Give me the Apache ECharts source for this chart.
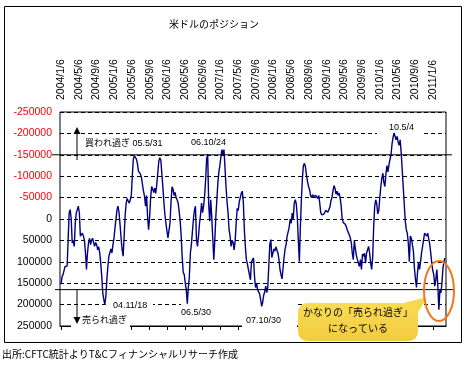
<!DOCTYPE html>
<html><head><meta charset="utf-8">
<script src="https://cdn.jsdelivr.net/npm/echarts@6/dist/echarts.min.js"></script>
<style>html,body{margin:0;padding:0;background:#fff}#c{width:465px;height:365px}</style>
</head><body><div id="c"></div>
<script>
// ---------- data ----------
const titleText = '米ドルのポジション';
const sourceText = '出所:CFTC統計よりT&Cフィナンシャルリサーチ作成';
const tickLabels = ['2004/1/6','2004/5/6','2004/9/6','2005/1/6','2005/5/6','2005/9/6',
  '2006/1/6','2006/5/6','2006/9/6','2007/1/6','2007/5/6','2007/9/6','2008/1/6','2008/5/6',
  '2008/9/6','2009/1/6','2009/5/6','2009/9/6','2010/1/6','2010/5/6','2010/9/6','2011/1/6'];
const firstWeek = '2004/1/6';
const axisStart = '2003/12/30';
const axisEnd = '2011/4/5';
const yMin = -250000, yMax = 250000, yStep = 50000;
const overboughtLevel = -150000;
const oversoldLevel = 165000;
// weekly net position (contracts), one value per week from firstWeek
const positions = [
  152000,135000,130000,120000,111000,112000,110000,48000,-14000,-22000,
  0,56000,50000,64000,9000,-14000,-22000,-30000,-14000,40000,
  44000,33000,40000,50000,79000,118000,79000,56000,45000,60000,
  50000,45000,55000,64000,55000,60000,72000,65000,79000,103000,
  134000,173000,188000,200000,181000,142000,111000,87000,79000,70000,
  79000,60000,45000,20000,0,-22000,-30000,-14000,15000,45000,
  72000,87000,40000,-10000,-37000,-48000,-42000,-37000,-45000,-55000,
  -100000,-140000,-148000,-148000,-140000,-130000,-112000,-108000,-105000,-96000,
  -80000,-65000,-53000,-30000,-55000,-5000,25000,-5000,-50000,-76000,
  -70000,-62000,-72000,-60000,-80000,-107000,-135000,-143000,-138000,-105000,
  -75000,-40000,-10000,10000,28000,44000,40000,10000,-40000,-75000,
  -70000,-55000,-62000,-50000,-45000,-37000,-18000,5000,40000,90000,
  125000,130000,150000,165000,198000,160000,135000,80000,60000,30000,
  0,-20000,-30000,48000,64000,40000,10000,-10000,-37000,-15000,
  -30000,-55000,-92000,-140000,-152000,-35000,5000,-45000,-5000,45000,
  95000,50000,-5000,-45000,-84000,-110000,-125000,-145000,-162000,-150000,
  -162000,-120000,-76000,-41000,-15000,25000,40000,64000,50000,55000,
  72000,50000,9000,-25000,-20000,-40000,-50000,-60000,-65000,-40000,
  25000,65000,95000,105000,118000,120000,142000,100000,98000,91000,
  135000,160000,150000,165000,162000,175000,188000,204000,195000,178000,
  170000,157000,172000,160000,110000,60000,48000,90000,80000,70000,
  75000,65000,62000,80000,95000,118000,130000,140000,115000,90000,
  70000,60000,40000,30000,20000,0,10000,-14000,0,-37000,
  -45000,-35000,-5000,50000,100000,20000,-45000,-95000,-125000,-130000,
  -122000,-102000,-88000,-76000,-69000,-55000,-50000,-57000,-52000,-55000,
  -55000,-53000,-48000,-55000,-38000,-15000,-10000,-10000,-11000,-14000,
  -20000,-22000,-16000,-20000,-28000,-42000,-50000,-65000,-78000,-72000,
  -58000,-65000,-55000,-61000,-50000,-32000,-2000,8000,5000,12000,
  17000,25000,29000,37000,44000,55000,80000,95000,50000,70000,
  85000,95000,103000,111000,95000,118000,82000,87000,80000,103000,
  80000,72000,64000,79000,103000,118000,90000,17000,-30000,-45000,
  -35000,-12000,-20000,-50000,-76000,-95000,-107000,-85000,-76000,-104000,
  -125000,-110000,-127000,-139000,-150000,-175000,-190000,-201000,-197000,-185000,
  -193000,-180000,-172000,-185000,-155000,-115000,-75000,-35000,5000,25000,
  33000,56000,100000,40000,45000,60000,75000,115000,140000,160000,
  126000,103000,118000,100000,79000,64000,48000,33000,29000,40000,
  33000,30000,58000,79000,103000,120000,130000,157000,142000,118000,
  157000,212000,165000,173000,150000,115000,100000,91000
];
const annotations = {
  overbought: '買われ過ぎ 05.5/31',
  peak2006: '06.10/24',
  peak2010: '10.5/4',
  low2004: '04.11/18',
  low2006: '06.5/30',
  low2007: '07.10/30',
  oversold: '売られ過ぎ',
  callout1: 'かなりの「売られ過ぎ」',
  callout2: 'になっている'
};

// ---------- helpers ----------
const parseDate = s => { const [y, m, d] = s.split('/').map(Number); return Date.UTC(y, m - 1, d); };
const DAY = 86400000;
const tickTimes = tickLabels.map(parseDate);
const labelFor = v => { const i = tickTimes.findIndex(t => Math.abs(t - v) < DAY / 2); return i >= 0 ? tickLabels[i] : ''; };
const t0 = parseDate(firstWeek);
const seriesData = positions.map((v, i) => [t0 + i * 7 * DAY, v]);
const xMin = parseDate(axisStart), xMax = parseDate(axisEnd);

const JP = '"Noto Sans CJK JP", sans-serif';
const NUM = '"Liberation Sans", "Noto Sans CJK JP", sans-serif';

const chart = echarts.init(document.getElementById('c'), null, { renderer: 'canvas' });
chart.setOption({
  animation: false,
  backgroundColor: '#ffffff',
  grid: { left: 60, right: 19, top: 112, bottom: 39, show: true, borderColor: '#000', borderWidth: 1, backgroundColor: 'transparent' },
  xAxis: [
    {
      type: 'value', position: 'top', min: xMin, max: xMax, scale: true,
      axisLine: { show: false }, axisTick: { show: false }, splitLine: { show: false },
      axisLabel: {
        customValues: tickTimes, rotate: 90, margin: 12, fontSize: 10.5, fontFamily: NUM, color: '#000',
        formatter: v => labelFor(v)
      }
    },
    {
      type: 'value', position: 'bottom', min: xMin, max: xMax, scale: true,
      axisLine: { show: true, onZero: true, lineStyle: { color: '#000', width: 1 } },
      axisTick: { show: true, customValues: tickTimes, length: 4, lineStyle: { color: '#000', width: 1 } },
      axisLabel: { show: false }, splitLine: { show: false }
    }
  ],
  yAxis: {
    type: 'value', inverse: true, min: yMin, max: yMax, interval: yStep,
    axisLine: { show: false }, axisTick: { show: false },
    splitLine: { show: true, lineStyle: { color: '#000', width: 1, type: [4, 3] } },
    axisLabel: {
      margin: 8, fontSize: 10.5, fontFamily: NUM,
      formatter: v => String(v),
      color: v => (Number(v) < 0 ? '#ff0000' : '#000000')
    }
  },
  series: [{
    type: 'line', data: seriesData, xAxisIndex: 0, yAxisIndex: 0,
    showSymbol: false, symbol: 'none', lineStyle: { color: '#000080', width: 1.4 }, z: 2
  }]
});

// ---------- annotations ----------
const yPix = v => chart.convertToPixel({ yAxisIndex: 0 }, v);
const gLeft = 60, gRight = 446;
const yOB = yPix(overboughtLevel), yOS = yPix(oversoldLevel);
const txt = (x, y, text, opts = {}, z = 5) => ({
  type: 'text', x, y, z,
  style: Object.assign({ text, fontSize: 9, fontFamily: NUM, fill: '#000', align: 'left', verticalAlign: 'middle' }, opts)
});
const whiteBox = (x, y, w, h) => ({ type: 'rect', z: 1, shape: { x, y, width: w, height: h }, style: { fill: '#fff' } });

const graphics = [
  { type: 'rect', z: 10, shape: { x: 4.5, y: 6.5, width: 457, height: 336 }, style: { fill: 'none', stroke: '#000', lineWidth: 1 } },
  txt(214, 24, titleText, { fontSize: 10, fontFamily: JP, align: 'center' }),
  txt(2, 354, sourceText, { fontSize: 10, fontFamily: JP }),
  whiteBox(377, 121, 46, 15),
  whiteBox(107, 300, 46, 12),
  whiteBox(181, 300, 62, 21),
  whiteBox(242, 300, 55, 31),
  whiteBox(71, 312, 59, 19),
  { type: 'line', z: 3, shape: { x1: gLeft - 8, y1: yOB, x2: gRight + 6, y2: yOB }, style: { stroke: '#000', lineWidth: 1 } },
  { type: 'line', z: 3, shape: { x1: gLeft - 5, y1: yOS, x2: gRight + 9, y2: yOS }, style: { stroke: '#000', lineWidth: 1 } },
  { type: 'line', z: 4, shape: { x1: 77, y1: 160, x2: 77, y2: 133 }, style: { stroke: '#000', lineWidth: 1 } },
  { type: 'polygon', z: 4, shape: { points: [[73.5, 134], [80.5, 134], [77, 127]] }, style: { fill: '#000' } },
  { type: 'line', z: 4, shape: { x1: 77, y1: yOS, x2: 77, y2: 318 }, style: { stroke: '#000', lineWidth: 1 } },
  { type: 'polygon', z: 4, shape: { points: [[73.5, 317], [80.5, 317], [77, 324]] }, style: { fill: '#000' } },
  txt(85, 144, annotations.overbought),
  txt(191, 143, annotations.peak2006),
  txt(389, 128, annotations.peak2010),
  txt(113, 306, annotations.low2004),
  txt(181, 313, annotations.low2006),
  txt(246, 321, annotations.low2007),
  txt(82, 320, annotations.oversold, { fontFamily: JP }),
  { type: 'polygon', z: 6, shape: { points: [[400, 304], [416, 316], [427, 297]] }, style: { fill: '#F7D64C' } },
  { type: 'rect', z: 6, shape: { x: 298, y: 303, width: 120, height: 38, r: 9 },
    style: { fill: new echarts.graphic.LinearGradient(0, 0, 0, 1, [{ offset: 0, color: '#F9DB55' }, { offset: 1, color: '#F1CC3C' }]) } },
  txt(358, 312, annotations.callout1, { fontSize: 10, fontFamily: JP, align: 'center' }, 7),
  txt(358, 328.5, annotations.callout2, { fontSize: 10, fontFamily: JP, align: 'center' }, 7),
  { type: 'ellipse', z: 8, shape: { cx: 439, cy: 291, rx: 15, ry: 30 }, style: { fill: 'none', stroke: '#F07820', lineWidth: 2 } }
];
chart.setOption({ graphic: graphics });
</script>
</body></html>
